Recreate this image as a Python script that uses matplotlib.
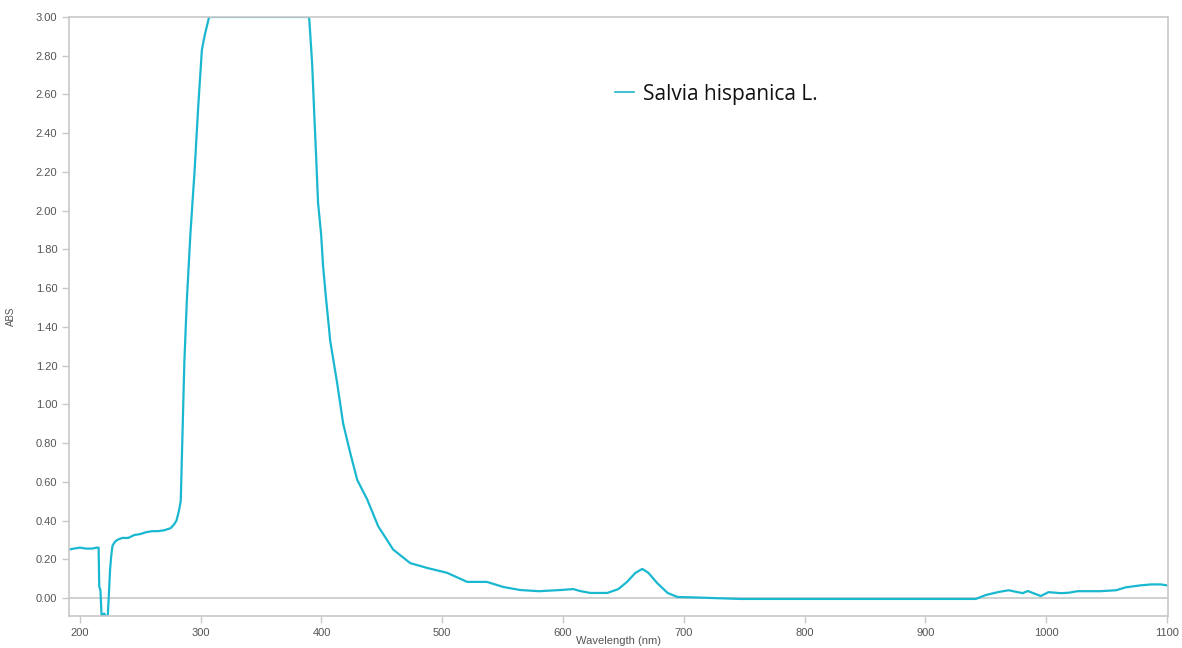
import numpy as np
import matplotlib.pyplot as plt

plt.close("all")

# Absorbance spectrum (wavelength nm, ABS)
wavelength = [191, 195, 200, 205, 210, 214, 215.5, 216, 217, 218, 220, 222, 223, 224, 225, 226, 227,
              229, 231, 235, 240, 245, 250, 255, 260, 265, 270, 275, 278, 280, 282,
              283.5, 285, 286.5, 288.5, 291.5, 295, 298, 301, 303.5, 307,
              320, 340, 360, 380, 389.8,
              392.3, 393.9, 395.6, 397.2, 399.7, 401.4, 403.9, 406.3, 407.2, 413, 418, 423.8,
              429.6, 437.8, 447, 459.4, 473.5, 487.6, 504, 520.7, 537, 550.5, 564.6, 580,
              597.8, 608.6, 614, 622.6, 636.7, 645.9, 653, 660, 665.7, 670.7, 678, 686.6,
              694.8, 708, 747, 800, 850, 900, 941.7,
              950, 960, 969, 976.5, 980.7, 984.8, 991.4, 995.6, 1002, 1012, 1018.8, 1026,
              1045, 1058, 1066, 1078, 1087, 1095, 1100]
absorbance = [0.25, 0.255, 0.26, 0.255, 0.255, 0.26, 0.26, 0.06, 0.04, -0.1, -0.08, -0.1, -0.1, 0.02, 0.15, 0.22, 0.27,
              0.29, 0.30, 0.31, 0.31, 0.325, 0.33, 0.34, 0.345, 0.345, 0.35, 0.36, 0.38, 0.40, 0.45,
              0.5, 0.86, 1.22, 1.53, 1.88, 2.21, 2.54, 2.83, 2.91, 3.0,
              3.0, 3.0, 3.0, 3.0, 3.0,
              2.76, 2.52, 2.28, 2.04, 1.88, 1.71, 1.54, 1.39, 1.33, 1.11, 0.90, 0.75,
              0.61, 0.51, 0.37, 0.25, 0.18, 0.155, 0.13, 0.083, 0.083, 0.057, 0.041, 0.035,
              0.041, 0.046, 0.036, 0.026, 0.026, 0.046, 0.083, 0.13, 0.15, 0.13, 0.077, 0.026,
              0.005, 0.003, -0.005, -0.005, -0.005, -0.005, -0.005,
              0.015, 0.03, 0.04, 0.03, 0.025, 0.036, 0.02, 0.01, 0.03, 0.025, 0.027, 0.035,
              0.035, 0.04, 0.055, 0.065, 0.07, 0.07, 0.065]
x_ticks = list(range(200, 1101, 100))
y_ticks = [round(0.2 * i, 2) for i in range(16)]

gray = "#c8c8c8"
label_gray = "#555555"

fig = plt.figure(figsize=(11.82, 6.48), dpi=100)
ax = fig.add_axes([0.0584, 0.0494, 0.9298, 0.9244])

ax.plot(wavelength, absorbance, color="#1ab8d0", lw=1.6, label="Salvia hispanica L.")
ax.axhline(0, color=gray, lw=1.2, zorder=0)

ax.set_xlim(191, 1101)
ax.set_ylim(-0.093, 3.0)
ax.set_xticks(x_ticks)
ax.set_yticks(y_ticks)
ax.set_yticklabels([f"{v:.2f}" for v in y_ticks])

for s in ax.spines.values():
    s.set_color(gray)
    s.set_linewidth(1.2)
ax.tick_params(colors=gray, labelcolor=label_gray, labelsize=8, length=5, width=1)
for lab in ax.get_xticklabels() + ax.get_yticklabels():
    lab.set_family("Liberation Sans")

ax.set_ylabel("ABS", fontsize=7, color=label_gray, family="Liberation Sans", labelpad=14)
ax.set_xlabel("Wavelength (nm)", fontsize=8, color=label_gray, family="Liberation Sans", labelpad=-1)

leg = ax.legend(loc="center left", bbox_to_anchor=(0.48, 0.871), frameon=False,
                handlelength=0.9, handletextpad=0.45,
                prop={"family": "Open Sans", "size": 15})
leg.get_lines()[0].set_linewidth(1.2)
leg.get_texts()[0].set_color("#111111")

plt.savefig("out.png", dpi=100)
